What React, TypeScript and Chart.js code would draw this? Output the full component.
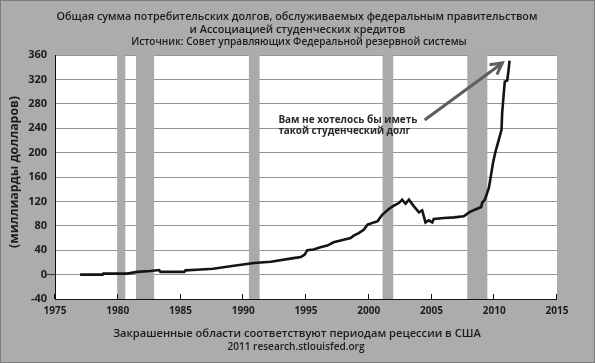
import React, { useEffect, useRef } from "react";
import { Chart, registerables } from "chart.js";

Chart.register(...registerables);

// ---- data ----
const years = [
  1977.0, 1978.8, 1978.85, 1980.75, 1981.55, 1982.6, 1983.3, 1983.4, 1985.3, 1985.4,
  1986.3, 1987.6, 1989.25, 1990.85, 1992.2, 1994.0, 1994.6, 1994.9, 1995.1, 1995.6,
  1996.15, 1996.7, 1997.2, 1998.0, 1998.55, 1998.8, 1999.2, 1999.6, 1999.9, 2000.4,
  2000.7, 2001.07, 2001.6, 2002.0, 2002.4, 2002.66, 2002.93, 2003.2, 2003.6, 2004.0,
  2004.26, 2004.52, 2004.78, 2005.06, 2005.18, 2006.0, 2006.8, 2007.57, 2008.0, 2008.4,
  2008.96, 2009.04, 2009.25, 2009.57, 2009.7, 2009.9, 2010.1, 2010.36, 2010.58, 2010.63,
  2010.76, 2010.84, 2011.03, 2011.11, 2011.22,
];
const debt = [
  0, 0, 1.6, 1.6, 4.4, 6, 7.5, 4.4, 4.4, 7,
  8, 9.5, 14.5, 19, 21, 27, 29, 32.7, 40, 41,
  45, 47.5, 52.9, 57.3, 60, 63.8, 68, 73.6, 81.8, 85.6,
  87.3, 98, 107.5, 113, 117.3, 122.8, 116.2, 122.8, 111.8, 102,
  105.2, 85.6, 88.9, 85.6, 91.2, 92.8, 93.8, 95.5, 102, 106,
  110.8, 118, 122.7, 142, 158, 183, 201.8, 221, 237.3, 264.6,
  297.4, 316.4, 318, 330, 350.7,
];
const recessionStart = [1979.95, 1981.45, 1990.45, 2001.1, 2007.85];
const recessionEnd = [1980.6, 1982.9, 1991.3, 2001.95, 2009.45];

const yMin = -40;
const yMax = 360;
const yStep = 40;
const xMin = 1975;
const xMax = 2015;
const xStep = 5;

const titleLines = [
  "Общая сумма потребительских долгов, обслуживаемых федеральным правительством",
  "и Ассоциацией студенческих кредитов",
];
const sourceLine = "Источник: Совет управляющих Федеральной резервной системы";
const footerLines = [
  "Закрашенные области соответствуют периодам рецессии в США",
  "2011 research.stlouisfed.org",
];
const yTitle = "(миллиарды долларов)";
const noteLines = ["Вам не хотелось бы иметь", "такой студенческий долг"];
const noteAt = [1992.8, 254, 234.5]; // x, y line1, y line2 (data units)
const arrowFrom = [2004.45, 253.5];
const arrowTo = [2010.65, 347];

const FAMILY = "'Open Sans', 'DejaVu Sans', sans-serif";
const BG = "#acacac";
const BAND = "#aaaaaa";
const GRID = "#959595";
const TEXT = "#1c1c1c";

function drawFitted(
  ctx: CanvasRenderingContext2D,
  text: string,
  x: number,
  y: number,
  width: number,
  weight: number,
  align: CanvasTextAlign,
  color: string
) {
  ctx.font = `${weight} 20px ${FAMILY}`;
  const w = ctx.measureText(text).width;
  const size = (20 * width) / w;
  ctx.font = `${weight} ${size.toFixed(2)}px ${FAMILY}`;
  ctx.fillStyle = color;
  ctx.textAlign = align;
  ctx.textBaseline = "middle";
  ctx.fillText(text, x, y);
}

const decor = {
  id: "decor",
  beforeDraw(chart: any) {
    const ctx = chart.ctx as CanvasRenderingContext2D;
    const a = chart.chartArea;
    ctx.save();
    ctx.fillStyle = BG;
    ctx.fillRect(0, 0, chart.width, chart.height);
    ctx.fillStyle = "#ffffff";
    ctx.fillRect(a.left, a.top, a.right - a.left, a.bottom - a.top);
    ctx.restore();
  },
  beforeDatasetsDraw(chart: any) {
    const ctx = chart.ctx as CanvasRenderingContext2D;
    const a = chart.chartArea;
    const xs = chart.scales.x;
    ctx.save();
    ctx.fillStyle = BAND;
    for (let i = 0; i < recessionStart.length; i++) {
      const x0 = xs.getPixelForValue(recessionStart[i]);
      const x1 = xs.getPixelForValue(recessionEnd[i]);
      ctx.fillRect(x0, a.top, x1 - x0, a.bottom - a.top);
    }
    // bottom axis line and inward tick marks
    ctx.strokeStyle = "#111";
    ctx.lineWidth = 1;
    ctx.beginPath();
    ctx.moveTo(a.left, a.bottom + 0.5);
    ctx.lineTo(a.right, a.bottom + 0.5);
    for (let v = xMin; v <= xMax; v += xStep) {
      const px = Math.round(xs.getPixelForValue(v)) - 0.5;
      ctx.moveTo(px, a.bottom);
      ctx.lineTo(px, a.bottom - 5);
    }
    ctx.stroke();
    ctx.restore();
  },
  afterDatasetsDraw(chart: any) {
    const ctx = chart.ctx as CanvasRenderingContext2D;
    const xs = chart.scales.x;
    const ys = chart.scales.y;
    ctx.save();
    // annotation text
    ctx.font = `700 11px ${FAMILY}`;
    const nx = xs.getPixelForValue(noteAt[0]);
    drawFitted(ctx, noteLines[0], nx, ys.getPixelForValue(noteAt[1]), 139, 700, "left", "#2a2a2a");
    drawFitted(ctx, noteLines[1], nx, ys.getPixelForValue(noteAt[2]), 132, 700, "left", "#2a2a2a");
    // arrow
    const x0 = xs.getPixelForValue(arrowFrom[0]);
    const y0 = ys.getPixelForValue(arrowFrom[1]);
    const x1 = xs.getPixelForValue(arrowTo[0]);
    const y1 = ys.getPixelForValue(arrowTo[1]);
    const ang = Math.atan2(y1 - y0, x1 - x0);
    ctx.strokeStyle = "#5e5e5e";
    ctx.lineWidth = 3;
    ctx.lineCap = "butt";
    ctx.beginPath();
    ctx.moveTo(x0, y0);
    ctx.lineTo(x1, y1);
    ctx.stroke();
    ctx.lineJoin = "miter";
    ctx.beginPath();
    const hl = 13;
    ctx.moveTo(x1 - hl * Math.cos(ang - 0.5), y1 - hl * Math.sin(ang - 0.5));
    ctx.lineTo(x1, y1);
    ctx.lineTo(x1 - hl * Math.cos(ang + 0.5), y1 - hl * Math.sin(ang + 0.5));
    ctx.stroke();
    ctx.restore();
  },
  afterDraw(chart: any) {
    const ctx = chart.ctx as CanvasRenderingContext2D;
    ctx.save();
    drawFitted(ctx, titleLines[0], 297, 17, 481, 600, "center", TEXT);
    drawFitted(ctx, titleLines[1], 297.5, 29.5, 216, 600, "center", TEXT);
    drawFitted(ctx, sourceLine, 299, 42, 336, 600, "center", TEXT);
    drawFitted(ctx, footerLines[0], 297, 334, 368, 600, "center", TEXT);
    drawFitted(ctx, footerLines[1], 296, 347, 137, 600, "center", TEXT);
    ctx.translate(14, 172);
    ctx.rotate(-Math.PI / 2);
    drawFitted(ctx, yTitle, 0, 0, 152, 700, "center", TEXT);
    ctx.restore();
    ctx.save();
    ctx.strokeStyle = "#7c7c7c";
    ctx.lineWidth = 1;
    ctx.strokeRect(0.5, 0.5, chart.width - 1, chart.height - 1);
    ctx.restore();
  },
};

export default function App() {
  const ref = useRef<HTMLCanvasElement | null>(null);

  useEffect(() => {
    document.body.style.margin = "0";
    const canvas = ref.current;
    if (!canvas) return;
    const chart = new Chart(canvas, {
      type: "line",
      data: {
        datasets: [
          {
            data: years.map((x, i) => ({ x, y: debt[i] })),
            borderColor: "#141414",
            borderWidth: 2.6,
            pointRadius: 0,
            tension: 0,
            fill: false,
          },
        ],
      },
      options: {
        responsive: false,
        animation: false,
        devicePixelRatio: 1,
        layout: { padding: { left: 0, top: 55, right: 38, bottom: 44 } },
        plugins: {
          legend: { display: false },
          tooltip: { enabled: false },
          title: { display: false },
        },
        scales: {
          x: {
            type: "linear",
            min: xMin,
            max: xMax,
            afterFit: (s: any) => {
              s.height = 20;
            },
            border: { display: false },
            grid: { display: false, drawTicks: false },
            ticks: {
              stepSize: xStep,
              padding: 6,
              color: TEXT,
              font: { family: FAMILY, size: 10, weight: 700 },
              callback: (v: any) => String(v),
              maxRotation: 0,
            },
          },
          y: {
            min: yMin,
            max: yMax,
            afterFit: (s: any) => {
              s.width = 55;
            },
            border: { display: true, color: "#111", width: 1 },
            grid: {
              color: GRID,
              lineWidth: 1,
              tickLength: 8,
              tickColor: (c: any) => (c.tick && c.tick.value === 0 ? "#333" : "rgba(0,0,0,0)"),
            },
            ticks: {
              stepSize: yStep,
              padding: 0,
              color: TEXT,
              font: { family: FAMILY, size: 11, weight: 700 },
            },
          },
        },
      },
      plugins: [decor],
    });
    return () => chart.destroy();
  }, []);

  return (
    <div style={{ width: 595, height: 363 }}>
      <canvas ref={ref} width={595} height={363} style={{ display: "block" }} />
    </div>
  );
}
